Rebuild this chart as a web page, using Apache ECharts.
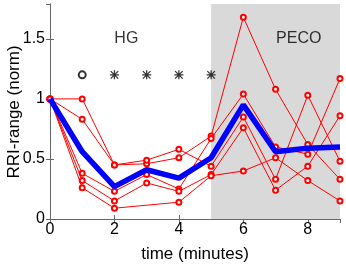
<!DOCTYPE html>
<html>
<head>
<meta charset="utf-8">
<script src="https://cdn.jsdelivr.net/npm/echarts@6/dist/echarts.min.js"></script>
<style>
  html, body { margin: 0; padding: 0; background: #fff; }
  #chart { width: 346px; height: 267px; }
</style>
</head>
<body>
<div id="chart"></div>
<script>
// minutes
const times = [0, 1, 2, 3, 4, 5, 6, 7, 8, 9];

// one row per subject, null = no sample
const subjectA = [1, 1.00, 0.45, 0.46, 0.51, 0.69, 1.68, 1.08, 0.62, 0.33];
const subjectB = [1, 0.83, 0.45, 0.49, 0.58, 0.44, 0.85, 0.33, 1.03, 0.48];
const subjectC = [1, 0.38, 0.23, 0.37, 0.25, 0.67, 1.04, 0.60, 0.54, 1.17];
const subjectD = [1, 0.32, 0.15, 0.30, 0.23, 0.37, 0.76, 0.24, 0.44, 0.86];
const subjectE = [1, 0.26, 0.09, null, 0.14, 0.36, 0.40, 0.51, 0.32, 0.15];
const subjects = [subjectA, subjectB, subjectC, subjectD, subjectE];

const meanRange = [1, 0.56, 0.27, 0.41, 0.34, 0.51, 0.95, 0.56, 0.59, 0.60];

// PECO shading
const pecoStart = 5;
const pecoEnd = 9;

// significance marks above the curves
const sigTimes = [1, 2, 3, 4, 5];
const sigMarks = ["o", "*", "*", "*", "*"];
const sigLevel = 1.2;

// phase names
const phaseNames = ["HG", "PECO"];
const phaseX = [2.37, 7.72];
const phaseY = [1.5, 1.5];

const xTickLabels = ["0", "2", "4", "6", "8"];
const yTickLabels = ["0", "0.5", "1", "1.5"];

const font = "Liberation Sans, Arial, sans-serif";
const axisGrey = "#666";

const asterisk =
  "path://M4.3,0h1.4v10h-1.4z M0,4.3h10v1.4h-10z " +
  "M1.3,0.3L9.7,8.7L8.7,9.7L0.3,1.3z M8.7,0.3L9.7,1.3L1.3,9.7L0.3,8.7z";

const pair = (arr) => times.map((t, i) => [t, arr[i]]);

const chart = echarts.init(document.getElementById("chart"), null, { renderer: "canvas" });

const series = [];

// shaded PECO block first, so everything sits above it
series.push({
  type: "line",
  data: [],
  silent: true,
  markArea: {
    silent: true,
    itemStyle: { color: "#d9d9d9" },
    data: [[{ xAxis: pecoStart }, { xAxis: pecoEnd }]],
  },
});

subjects.forEach((s) => {
  series.push({
    type: "line",
    data: pair(s),
    connectNulls: true,
    symbol: "emptyCircle",
    symbolSize: 5,
    lineStyle: { color: "#ff0000", width: 1 },
    itemStyle: { color: "#ff0000", borderColor: "#ff0000", borderWidth: 1.5 },
    z: 3,
    animation: false,
  });
});

series.push({
  type: "line",
  data: pair(meanRange),
  symbol: "none",
  lineStyle: { color: "#0000ff", width: 5.5 },
  z: 5,
  animation: false,
});

// o / * significance markers
series.push({
  type: "scatter",
  data: sigTimes.map((t, i) => ({
    value: [t, sigLevel],
    symbol: sigMarks[i] === "o" ? "emptyCircle" : asterisk,
    symbolSize: sigMarks[i] === "o" ? 7 : 9,
    itemStyle: sigMarks[i] === "o"
      ? { color: "#000", borderColor: "#000", borderWidth: 1.3 }
      : { color: "#000" },
  })),
  z: 6,
  animation: false,
});

series.push({
  type: "scatter",
  data: phaseNames.map((n, i) => ({ value: [phaseX[i], phaseY[i]], name: n })),
  symbolSize: 0,
  label: {
    show: true,
    position: "inside",
    formatter: (p) => p.name,
    color: "#000",
    fontSize: 16,
    fontFamily: font,
  },
  z: 6,
  animation: false,
});

chart.setOption({
  animation: false,
  grid: { left: 50, right: 6, top: 4, bottom: 48, containLabel: false, outerBoundsMode: "none" },
  // y title drawn by hand, the axis name kept landing on the tick labels
  graphic: [
    {
      type: "text",
      x: 14,
      y: 112,
      rotation: Math.PI / 2,
      style: {
        text: "RRI-range (norm)",
        fill: "#000",
        font: "17px " + font,
        align: "center",
        verticalAlign: "middle",
      },
    },
  ],
  xAxis: [
    {
      type: "value",
      min: 0,
      max: 9,
      interval: 2,
      name: "time (minutes)",
      nameLocation: "middle",
      nameGap: 27,
      nameTextStyle: { fontSize: 17, fontFamily: font, color: "#000" },
      axisLine: { lineStyle: { color: axisGrey } },
      axisTick: { inside: true, length: 4, lineStyle: { color: axisGrey } },
      axisLabel: {
        color: "#000",
        fontSize: 16,
        fontFamily: font,
        margin: 3,
        showMaxLabel: false,
        formatter: (v) => (xTickLabels.includes(String(v)) ? String(v) : ""),
      },
      splitLine: { show: false },
    },
    {
      type: "value",
      position: "top",
      min: 0,
      max: 9,
      interval: 2,
      axisLine: { show: true, lineStyle: { color: axisGrey } },
      axisTick: { inside: true, length: 4, lineStyle: { color: axisGrey } },
      axisLabel: { show: false },
      splitLine: { show: false },
    },
  ],
  yAxis: [
    {
      type: "value",
      min: 0,
      max: 1.79,
      interval: 0.5,
      axisLine: { show: true, lineStyle: { color: axisGrey } },
      axisTick: { inside: true, length: 4, lineStyle: { color: axisGrey } },
      axisLabel: {
        color: "#000",
        fontSize: 16,
        fontFamily: font,
        margin: 5,
        showMaxLabel: false,
        formatter: (v) => (yTickLabels.includes(String(v)) ? String(v) : ""),
      },
      splitLine: { show: false },
    },
    {
      type: "value",
      position: "right",
      min: 0,
      max: 1.79,
      interval: 0.5,
      axisLine: { show: true, lineStyle: { color: axisGrey } },
      axisTick: { inside: true, length: 4, lineStyle: { color: axisGrey } },
      axisLabel: { show: false },
      splitLine: { show: false },
    },
  ],
  series: series,
});
</script>
</body>
</html>
